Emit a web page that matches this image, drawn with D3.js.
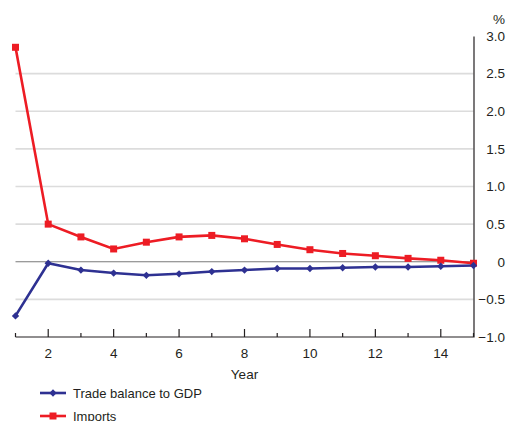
<!DOCTYPE html>
<html><head><meta charset="utf-8">
<script src="https://cdn.jsdelivr.net/npm/d3@7"></script>
<style>body{margin:0;background:#fff}svg{display:block}text{font-family:"Liberation Sans",Arial,sans-serif;fill:#231f20}</style>
</head><body><svg id="c" width="507" height="421"></svg>
<script>
const years = [1,2,3,4,5,6,7,8,9,10,11,12,13,14,15];
const tradeBalance = [-0.72,-0.02,-0.11,-0.15,-0.18,-0.16,-0.13,-0.11,-0.09,-0.09,-0.08,-0.07,-0.07,-0.06,-0.05];
const imports = [2.85,0.50,0.33,0.17,0.26,0.33,0.35,0.305,0.23,0.16,0.11,0.08,0.045,0.02,-0.02];
const yTicks = [-1.0,-0.5,0,0.5,1.0,1.5,2.0,2.5,3.0];
const xTickLabels = [2,4,6,8,10,12,14];
const seriesNames = ["Trade balance to GDP","Imports"];

const svg = d3.select("#c");
const x = d3.scaleLinear().domain([1,15]).range([15.5,473.5]);
const y = d3.scaleLinear().domain([-1,3]).range([337,36]);
const red="#ed1c24", blue="#2e3192";

// gridlines
svg.append("g").selectAll("line").data(yTicks.filter(d=>d!==3 && d!==-1)).join("line")
  .attr("x1",x(1)).attr("x2",x(15)).attr("y1",d=>y(d)).attr("y2",d=>y(d))
  .attr("stroke",d=>d===0?"#7a7a7a":"#dcdcdc").attr("stroke-width",d=>d===0?1.2:1.6);

// right axis
const yAxis = d3.axisRight(y).tickValues(yTicks).tickSize(0).tickFormat(d=>d===0?"0":d3.format(".1f")(d));
const ya = svg.append("g").attr("transform",`translate(${x(15)},0)`).call(yAxis);
ya.select(".domain").attr("stroke","#231f20").attr("stroke-width",1.2);
ya.selectAll("text").attr("text-anchor","end").attr("x",505-x(15)).attr("font-size",13.5).attr("fill","#231f20");
svg.append("text").attr("x",505).attr("y",24).attr("text-anchor","end").attr("font-size",13.5).text("%");

// bottom axis
const xa = svg.append("g").attr("transform",`translate(0,${y(-1)})`);
xa.append("line").attr("x1",x(1)).attr("x2",x(15)).attr("stroke","#231f20").attr("stroke-width",1.2);
xa.selectAll("line.t").data(years).join("line").attr("class","t")
  .attr("x1",d=>x(d)).attr("x2",d=>x(d)).attr("y1",0).attr("y2",d=>d%2===0?-8:-4)
  .attr("stroke","#231f20").attr("stroke-width",1.2);
xa.selectAll("text").data(xTickLabels).join("text")
  .attr("x",d=>x(d)).attr("y",21).attr("text-anchor","middle").attr("font-size",13.5).text(d=>d);
svg.append("text").attr("x",x(8)).attr("y",379).attr("text-anchor","middle").attr("font-size",13.5).text("Year");

// lines
const line = d3.line().x((d,i)=>x(years[i])).y(d=>y(d));
svg.append("path").datum(imports).attr("d",line).attr("fill","none").attr("stroke",red).attr("stroke-width",2.6);
svg.append("path").datum(tradeBalance).attr("d",line).attr("fill","none").attr("stroke",blue).attr("stroke-width",2.6);

// markers
svg.append("g").selectAll("rect").data(imports).join("rect")
  .attr("x",(d,i)=>x(years[i])-3.5).attr("y",d=>y(d)-3.5).attr("width",7).attr("height",7).attr("fill",red);
const diamond = d3.symbol().type(d3.symbolDiamond2).size(34);
svg.append("g").selectAll("path").data(tradeBalance).join("path")
  .attr("transform",(d,i)=>`translate(${x(years[i])},${y(d)})`).attr("d",diamond).attr("fill",blue);

// legend
const lg = svg.append("g");
const legendColors=[blue,red];
seriesNames.forEach((n,i)=>{
  const ly = 393 + i*23;
  lg.append("line").attr("x1",40).attr("x2",66).attr("y1",ly).attr("y2",ly).attr("stroke",legendColors[i]).attr("stroke-width",2.6);
  if(i===0) lg.append("path").attr("transform",`translate(53,${ly})`).attr("d",diamond).attr("fill",blue);
  else lg.append("rect").attr("x",49.5).attr("y",ly-3.5).attr("width",7).attr("height",7).attr("fill",red);
  lg.append("text").attr("x",73).attr("y",ly+5).attr("font-size",13).text(n);
});
</script></body></html>
